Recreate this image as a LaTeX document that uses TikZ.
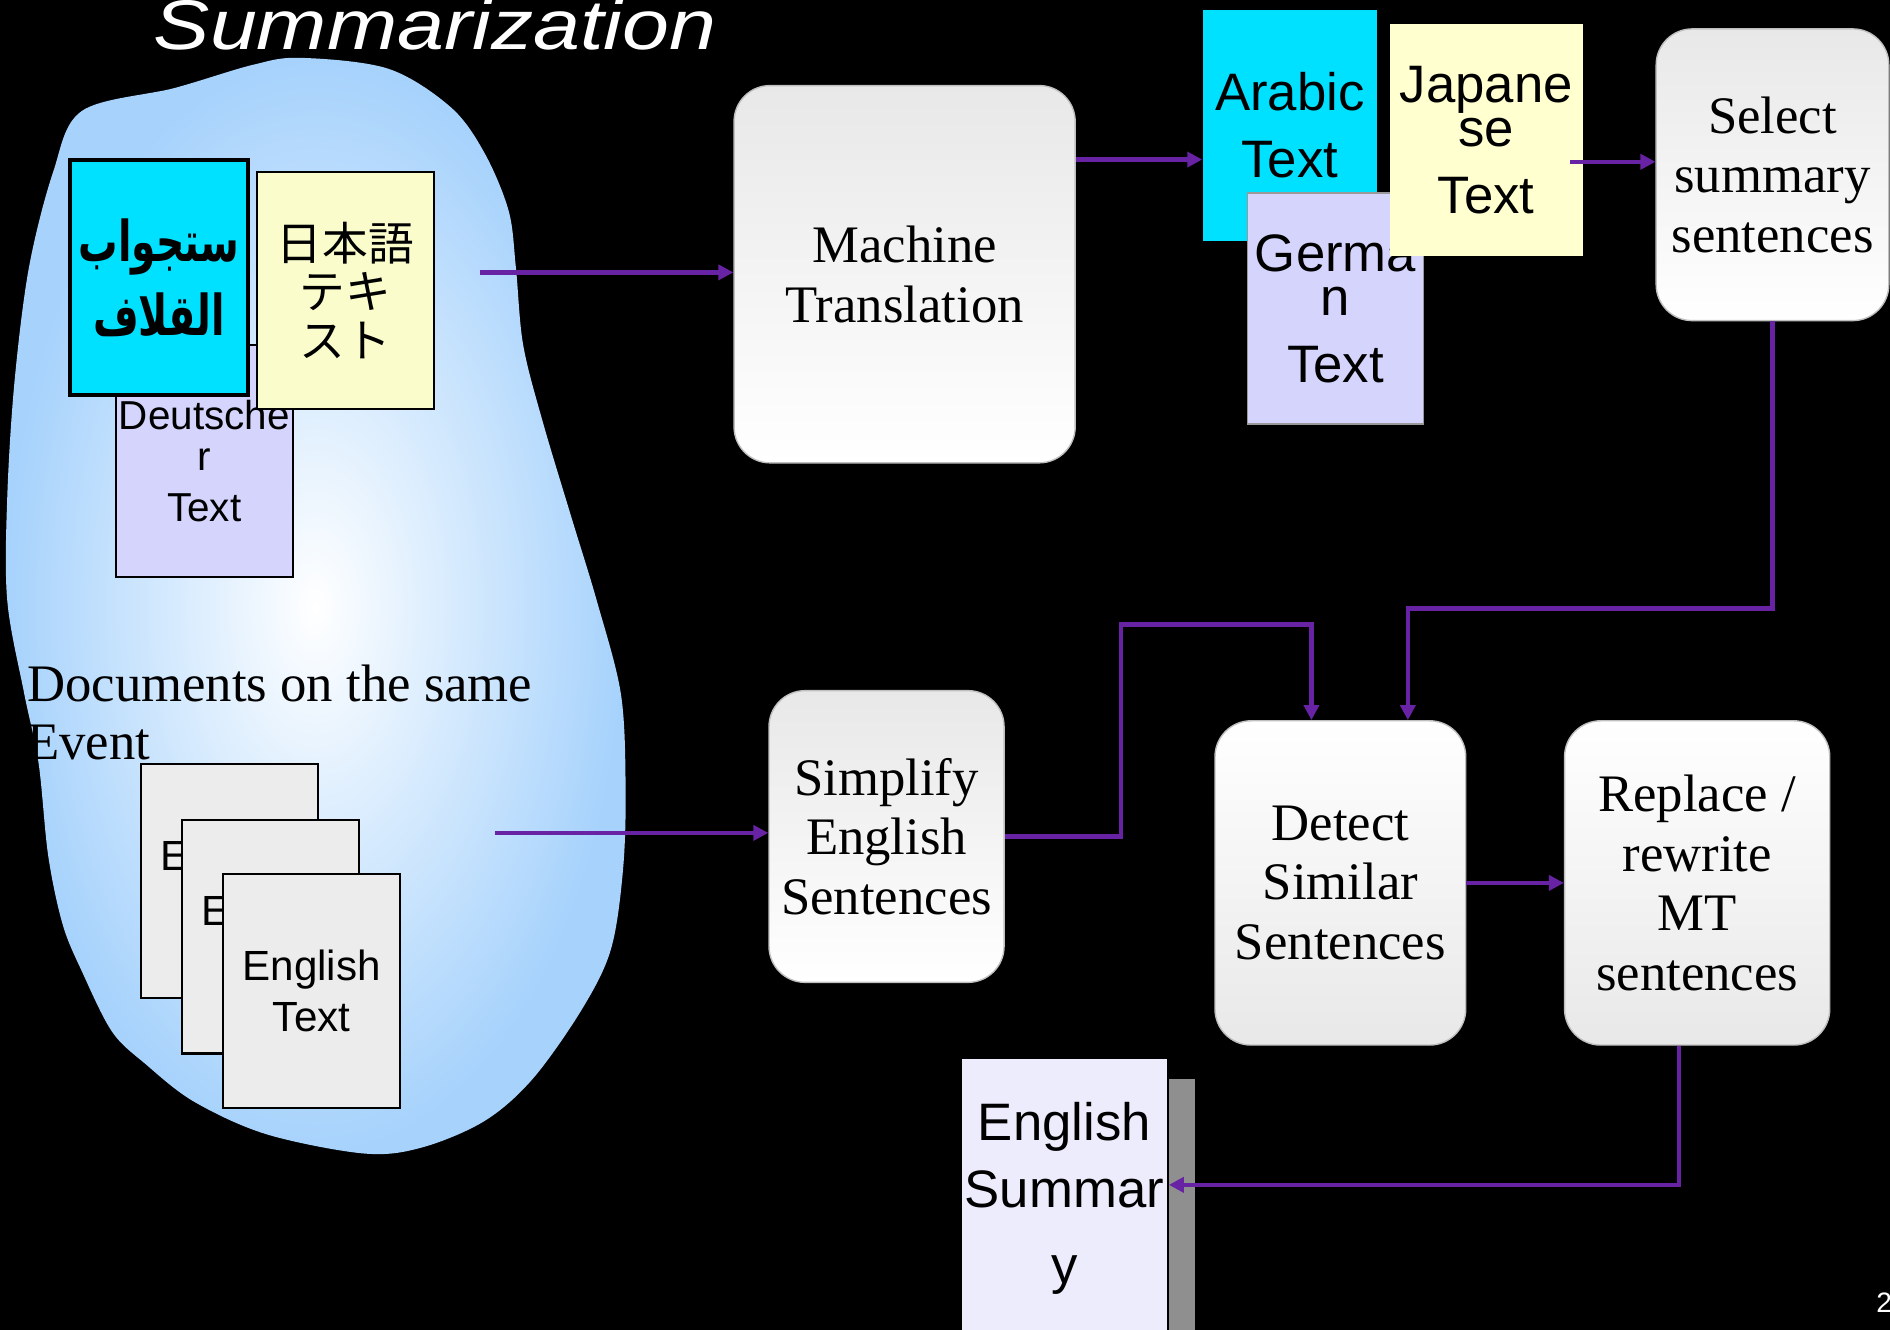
\documentclass[tikz,border=0pt]{standalone}
\usepackage{fontspec}
\setmainfont{Liberation Serif}
\newfontfamily\arialfont{Liberation Sans}
\newfontfamily\titlefont[FakeStretch=1.2]{Liberation Sans}
\newfontfamily\jpfont{Noto Sans CJK JP}
\newfontfamily\arabicfont[Script=Arabic,FakeStretch=0.7]{DejaVu Sans}
\TeXXeTstate=1
\usetikzlibrary{arrows.meta,calc}
\definecolor{mtpurple}{RGB}{104,34,164}
\definecolor{blobblue}{RGB}{166,210,252}
\definecolor{cyanbox}{RGB}{0,224,255}
\definecolor{delav}{RGB}{212,212,252}
\definecolor{jpyellow}{RGB}{250,252,204}
\definecolor{jayellow}{RGB}{255,255,208}
\definecolor{sumlav}{RGB}{236,236,253}
\definecolor{docgray}{RGB}{236,236,236}
\definecolor{shadowgray}{RGB}{143,143,143}
\newcommand\pxu{0.12054mm}

\begin{document}
\begin{tikzpicture}[x=0.12054mm, y=-0.12054mm]
  \tikzset{stage/.style={rectangle, rounded corners=3.6mm, draw=black!25, top color=black!9, bottom color=white, align=center, inner sep=0pt, font=\fontsize{15}{17}\selectfont},
    stageup/.style={stage, top color=white, bottom color=black!9},
    doc/.style={rectangle, align=center, inner sep=0pt, font=\arialfont\fontsize{15}{19}\selectfont},
    minidoc/.style={doc, draw=black, line width=0.6pt, font=\arialfont\fontsize{12}{14.7}\selectfont},
    sz/.style 2 args={minimum width=#1*\pxu, minimum height=#2*\pxu},
    arr/.style={-{Triangle[length=1.5mm,width=1.5mm]}, line width=1.3pt, mtpurple}}
  \useasboundingbox (0,0) rectangle (1568,1103);
  \fill[black] (0,0) rectangle (1568,1103);
  \node[anchor=base west, inner sep=0pt, text=white, font=\titlefont\itshape\fontsize{20}{20}\selectfont] (title) at (127,41) {Summarization};
  \shade[inner color=white, outer color=blobblue] plot[smooth cycle, tension=0.55] coordinates {(68,92) (145,73) (209,54) (249,48) (322,57) (374,89) (402,127) (422,175) (428,222) (434,286) (450,349) (474,429) (495,498) (515,575) (519,650) (517,720) (507,787) (483,837) (442,895) (402,930) (350,952) (302,957) (221,941) (161,914) (121,883) (93,856) (68,806) (52,767) (40,710) (32,633) (20,575) (6,498) (6,413) (12,317) (24,222) (44,143)};
  \node[minidoc, sz={147}{193}, fill=delav, font=\arialfont\fontsize{11.5}{14.7}\selectfont] (deDoc) at (169.5,382.5) {Deutsche\\[-3.1pt]r\\Text};
  \node[doc, sz={148}{195}, fill=cyanbox, draw=black, line width=1.2pt, font=\arabicfont\bfseries\fontsize{16}{20.8}\selectfont] (arDoc) at (132,230.5) {\beginR ستجواب\endR\\\beginR القلاف\endR};
  \node[minidoc, sz={147}{196}, fill=jpyellow, font=\jpfont\fontsize{13}{13.7}\selectfont] (jpDoc) at (286.5,241) {日本語\\テキ\\スト};
  \node[anchor=north west, inner sep=0pt, align=left, font=\fontsize{15}{16.4}\selectfont] (docs) at (22,551) {Documents on the same\\Event};
  \node[minidoc, sz={147}{194}, fill=docgray] (enBack) at (190.5,731) {English\\Text};
  \node[minidoc, sz={147}{194}, fill=docgray] (enMid) at (224.5,777) {English\\Text};
  \node[minidoc, sz={147}{194}, fill=docgray] (enFront) at (258.5,822) {English\\Text};

  \node[stage, sz={283}{313}] (mt) at (750.5,227.5) {Machine\\Translation};
  \node[doc, sz={144}{192}, fill=cyanbox] (arT) at (1070,104) {Arabic\\Text};
  \node[doc, sz={146}{192}, fill=delav, draw=black!40, line width=0.5pt] (geT) at (1108,256) {Germa\\[-6.4pt]n\\Text};
  \node[doc, sz={160}{192}, fill=jayellow] (jaT) at (1233,116) {Japane\\[-6.4pt]se\\Text};
  \node[stage, sz={193}{242}] (sel) at (1470.5,145) {Select\\summary\\sentences};
  \node[stage, sz={195}{242}] (simp) at (735.5,694) {Simplify\\English\\Sentences};
  \node[stageup, sz={208}{269}] (det) at (1112,732.5) {Detect\\Similar\\Sentences};
  \node[stageup, sz={220}{269}] (rep) at (1408,732.5) {Replace /\\rewrite\\MT\\sentences};
  \fill[shadowgray] (969,895) rectangle (991,1110);
  \node[doc, sz={172}{232}, fill=sumlav, draw=black, line width=0.5pt] (summ) at (883,994) {English\\Summar\\[2.7pt]y};
  \node[anchor=base west, inner sep=0pt, text=white, font=\arialfont\fontsize{8}{8}\selectfont] (pgnum) at (1556,1089) {2};

  \coordinate (srcA) at (398,226);
  \coordinate (srcB) at (411,691);
  \coordinate (mtout) at ([yshift=-7.47mm]mt.north east);
  \coordinate (jaout) at ([xshift=-1.3mm,yshift=-2.2mm]jaT.east);
  \coordinate (bendA) at (930,518);
  \coordinate (bendB) at (1168,505);
  \draw[arr] (srcA) -- (srcA -| mt.west);
  \draw[arr] (srcB) -- (srcB -| simp.west);
  \draw[arr] (mtout) -- (mtout -| arT.west);
  \draw[arr] (jaout) -- (jaout -| sel.west);
  \draw[arr] (simp.east) -| (bendA) -| ($(det.north)+(-24,0)$);
  \draw[arr] (sel.south) |- (bendB) -- (bendB |- det.north);
  \draw[arr] (det.east) -- (rep.west);
  \draw[arr] ($(rep.south)+(-15,0)$) |- ($(summ.east)+(0,-11)$);
\end{tikzpicture}
\end{document}
